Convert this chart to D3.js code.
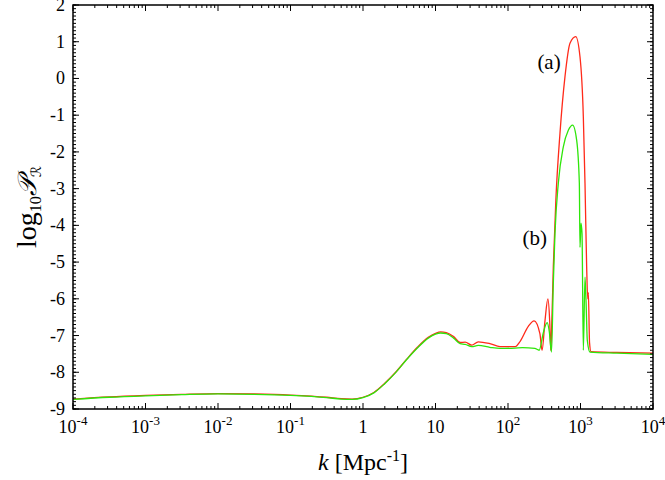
<!DOCTYPE html>
<html>
<head>
<meta charset="utf-8">
<script src="https://cdn.jsdelivr.net/npm/d3@7"></script>
<style>
  body { margin: 0; background: #ffffff; }
  svg { display: block; }
  text { font-family: "Liberation Serif", "DejaVu Serif", serif; fill: #000; }
</style>
</head>
<body>
<svg id="chart" width="665" height="480"></svg>
<script>
// log10 k and log10 P_R
const redLogK = [-4, -3.5, -3, -2.5, -2, -1.5, -1, -0.5, -0.3, -0.15, 0, 0.15, 0.3, 0.45, 0.6, 0.75, 0.9, 1.0, 1.07, 1.15, 1.25, 1.34, 1.41, 1.5, 1.59, 1.75, 1.89, 2.1, 2.17, 2.28, 2.36, 2.44, 2.47, 2.51, 2.55, 2.575, 2.59, 2.60, 2.625, 2.66, 2.717, 2.786, 2.855, 2.934, 2.993, 3.039, 3.062, 3.085, 3.1, 3.108, 3.125, 3.145, 3.5, 4];
const redVal = [-8.73, -8.67, -8.63, -8.6, -8.58, -8.59, -8.62, -8.68, -8.72, -8.73, -8.68, -8.55, -8.3, -8.0, -7.65, -7.32, -7.05, -6.94, -6.9, -6.92, -7.03, -7.19, -7.18, -7.26, -7.17, -7.22, -7.3, -7.3, -7.15, -6.75, -6.6, -6.95, -7.4, -6.6, -6.0, -6.6, -7.4, -6.94, -5.13, -3.31, -1.49, 0.05, 0.96, 1.14, 0.59, -1.04, -2.85, -5.13, -6.0, -5.83, -7.2, -7.44, -7.46, -7.48];

const greenLogK = [-4, -3.5, -3, -2.5, -2, -1.5, -1, -0.5, -0.3, -0.15, 0, 0.15, 0.3, 0.45, 0.6, 0.75, 0.9, 1.0, 1.07, 1.15, 1.25, 1.34, 1.41, 1.5, 1.59, 1.75, 1.89, 2.1, 2.2, 2.37, 2.43, 2.49, 2.54, 2.57, 2.60, 2.625, 2.648, 2.694, 2.763, 2.832, 2.892, 2.947, 2.984, 2.993, 3.007, 3.021, 3.039, 3.062, 3.076, 3.094, 3.131, 3.5, 4];
const greenVal = [-8.74, -8.68, -8.64, -8.61, -8.59, -8.6, -8.63, -8.69, -8.73, -8.74, -8.69, -8.56, -8.31, -8.01, -7.66, -7.34, -7.07, -6.96, -6.93, -6.95, -7.07, -7.22, -7.24, -7.3, -7.27, -7.32, -7.35, -7.34, -7.33, -7.35, -7.4, -6.9, -6.65, -6.9, -7.45, -5.58, -4.22, -2.85, -1.86, -1.41, -1.27, -1.68, -2.85, -4.6, -3.94, -4.22, -7.4, -5.41, -6.04, -7.13, -7.45, -7.48, -7.51];

const xDecades = [-4, -3, -2, -1, 0, 1, 2, 3, 4];
const yTicks = [2, 1, 0, -1, -2, -3, -4, -5, -6, -7, -8, -9];
const labels = [
  { text: "(a)", logk: 2.566, v: 0.26 },
  { text: "(b)", logk: 2.37, v: -4.54 }
];

const redColor = "#ff2a1a";
const greenColor = "#2ee60a";

const margin = { t: 5, r: 12, b: 71, l: 73 };
const W = 665, H = 480;
const svg = d3.select("#chart");

const x = d3.scaleLinear().domain([-4, 4]).range([margin.l, W - margin.r]);
const y = d3.scaleLinear().domain([-9, 2]).range([H - margin.b, margin.t]);

const line = d3.line()
  .x(d => x(d[0]))
  .y(d => y(d[1]))
  .curve(d3.curveMonotoneX);

const redData = d3.zip(redLogK, redVal);
const greenData = d3.zip(greenLogK, greenVal);

svg.append("path").datum(redData)
  .attr("d", line).attr("fill", "none")
  .attr("stroke", redColor).attr("stroke-width", 1.3);
svg.append("path").datum(greenData)
  .attr("d", line).attr("fill", "none")
  .attr("stroke", greenColor).attr("stroke-width", 1.3);

// ticks
const minorX = [];
xDecades.slice(0, -1).forEach(d => {
  for (let m = 2; m <= 9; m++) minorX.push(d + Math.log10(m));
});
const minorY = d3.range(-90, 21).map(v => v / 10);

const x0 = x.range()[0], x1 = x.range()[1];
const y0 = y.range()[0], y1 = y.range()[1];

function tickSet(vals, len, horizontal) {
  vals.forEach(v => {
    if (horizontal) {
      const px = x(v);
      svg.append("line").attr("x1", px).attr("x2", px).attr("y1", y0).attr("y2", y0 - len)
        .attr("stroke", "#000").attr("stroke-width", 1);
      svg.append("line").attr("x1", px).attr("x2", px).attr("y1", y1).attr("y2", y1 + len)
        .attr("stroke", "#000").attr("stroke-width", 1);
    } else {
      const py = y(v);
      svg.append("line").attr("x1", x0).attr("x2", x0 + len).attr("y1", py).attr("y2", py)
        .attr("stroke", "#000").attr("stroke-width", 1);
      svg.append("line").attr("x1", x1).attr("x2", x1 - len).attr("y1", py).attr("y2", py)
        .attr("stroke", "#000").attr("stroke-width", 1);
    }
  });
}
tickSet(minorX, 3, true);
tickSet(xDecades, 6, true);
tickSet(minorY, 3, false);
tickSet(yTicks, 6, false);

svg.append("rect")
  .attr("x", x0).attr("y", y1)
  .attr("width", x1 - x0).attr("height", y0 - y1)
  .attr("fill", "none").attr("stroke", "#000").attr("stroke-width", 1.5);

// y tick labels
svg.selectAll(".ylab").data(yTicks).join("text")
  .attr("class", "ylab")
  .attr("x", x0 - 8)
  .attr("y", d => y(d) + 6)
  .attr("text-anchor", "end")
  .attr("font-size", 18)
  .text(d => d);

// x tick labels
xDecades.forEach(d => {
  const t = svg.append("text")
    .attr("x", x(d))
    .attr("y", y0 + 24)
    .attr("text-anchor", "middle")
    .attr("font-size", 18);
  if (d === 0) t.text("1");
  else if (d === 1) t.text("10");
  else {
    t.append("tspan").text("10");
    t.append("tspan").attr("dy", -8).attr("font-size", 13).text(d);
  }
});

// axis titles
const xt = svg.append("text")
  .attr("x", (x0 + x1) / 2)
  .attr("y", 470)
  .attr("text-anchor", "middle")
  .attr("font-size", 24);
xt.append("tspan").attr("font-style", "italic").text("k");
xt.append("tspan").text(" [Mpc");
xt.append("tspan").attr("dy", -9).attr("font-size", 16).text("-1");
xt.append("tspan").attr("dy", 9).text("]");

const yt = svg.append("text")
  .attr("transform", "translate(36,207) rotate(-90)")
  .attr("text-anchor", "middle")
  .attr("font-size", 28);
yt.append("tspan").text("log");
yt.append("tspan").attr("dy", 5).attr("font-size", 16).text("10");
yt.append("tspan").attr("dy", -5).attr("font-family", "DejaVu Sans, serif").attr("font-style", "italic").attr("font-size", 26).text("\u{1D4AB}");
yt.append("tspan").attr("dy", 5).attr("font-family", "DejaVu Sans, serif").attr("font-size", 14).text("\u211B");

// curve labels
svg.selectAll(".clab").data(labels).join("text")
  .attr("class", "clab")
  .attr("x", d => x(d.logk))
  .attr("y", d => y(d.v))
  .attr("text-anchor", "middle")
  .attr("font-size", 21)
  .text(d => d.text);
</script>
</body>
</html>
